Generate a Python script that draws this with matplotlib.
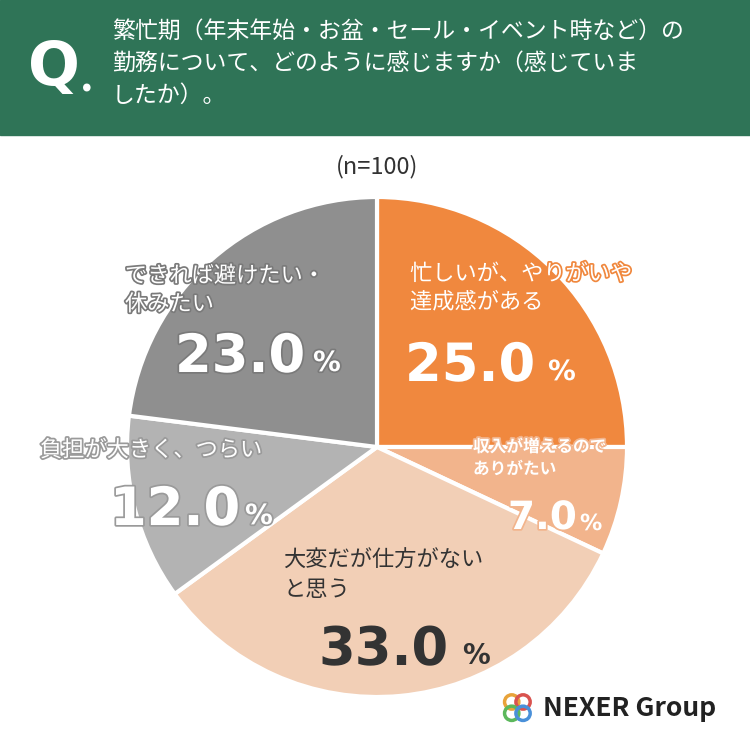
import matplotlib
matplotlib.use("Agg")
import matplotlib.pyplot as plt
from matplotlib.patches import Rectangle
import matplotlib.patheffects as pe

plt.rcParams['font.family'] = ['Noto Sans CJK JP', 'DejaVu Sans']

labels = ["忙しいが、やりがいや\n達成感がある", "収入が増えるので\nありがたい", "大変だが仕方がない\nと思う", "負担が大きく、つらい", "できれば避けたい・\n休みたい"]
values = [25.0, 7.0, 33.0, 12.0, 23.0]
colors = ["#f0883e", "#f2b48c", "#f2cfb6", "#b3b3b3", "#8f8f8f"]

W = H = 750
fig = plt.figure(figsize=(7.5, 7.5), dpi=100)
fig.patch.set_facecolor("white")

def fx(x): return x / W
def fy(y): return 1 - y / H

fig.patches.append(Rectangle((0, fy(135)), 1, 135 / H, transform=fig.transFigure, color="#2f7457", zorder=0))
fig.text(fx(28), fy(68), "Q", color="white", fontsize=44, fontweight="bold", va="center", ha="left", family="DejaVu Sans")
fig.text(fx(80), fy(80), ".", color="white", fontsize=30, fontweight="bold", va="center", ha="left")
fig.text(fx(112), fy(20), "繁忙期（年末年始・お盆・セール・イベント時など）の\n勤務について、どのように感じますか（感じていま\nしたか）。",
         color="white", fontsize=16.5, va="top", ha="left", linespacing=1.5)

fig.text(fx(377), fy(167), "(n=100)", fontsize=17, color="#333333", ha="center", va="center")

cx, cy, r = 377, 447, 250
ax = fig.add_axes([fx(cx - r), fy(cy + r), 2 * r / W, 2 * r / H])
ax.pie(values, colors=colors, startangle=90, counterclock=False,
       wedgeprops=dict(edgecolor="white", linewidth=3))
ax.set_xlim(-1, 1); ax.set_ylim(-1, 1)
ax.set_aspect("equal")

NUM = "DejaVu Sans"

def block(lx, ly, text, tsize, tweight, nx, ny, v, nsize, px, psize, color, stroke):
    eff = [pe.withStroke(linewidth=2.5, foreground=stroke)] if stroke else None
    fig.text(fx(lx), fy(ly), text, fontsize=tsize, color=color, fontweight=tweight, ha="left", va="center",
             linespacing=1.3, path_effects=eff)
    fig.text(fx(nx), fy(ny), f"{v:.1f}", fontsize=nsize, color=color, fontweight="bold", va="center", family=NUM,
             path_effects=eff)
    fig.text(fx(px), fy(ny + 6), "%", fontsize=psize, color=color, fontweight="bold", va="center", family=NUM,
             path_effects=eff)

block(410, 288, labels[0], 16, "normal", 405, 366, values[0], 38, 548, 20, "white", "#f0883e")
block(473, 458, labels[1], 12, "bold", 508, 518, values[1], 28, 580, 16, "white", "#f2b48c")
block(283, 575, labels[2], 16, "normal", 318, 650, values[2], 38, 462, 20, "#333333", None)
block(40, 450, labels[3], 16, "normal", 110, 510, values[3], 38, 245, 20, "white", "#9a9a9a")
block(125, 290, labels[4], 16, "normal", 175, 357, values[4], 38, 313, 20, "white", "#7a7a7a")

fig.text(fx(543), fy(708), "NEXER Group", fontsize=19, color="#222222", fontweight="bold", va="center")
lx = fig.add_axes([fx(497), fy(728), 42 / W, 42 / H])
for (x, y, c) in [(0.35, 0.62, "#e8a33a"), (0.62, 0.62, "#d9534f"), (0.35, 0.35, "#5cb85c"), (0.62, 0.35, "#4a90d9")]:
    lx.add_patch(plt.Circle((x, y), 0.17, fill=False, lw=2.5, ec=c))
lx.set_xlim(0, 1); lx.set_ylim(0, 1); lx.axis("off")

fig.savefig("out.png", dpi=100)
